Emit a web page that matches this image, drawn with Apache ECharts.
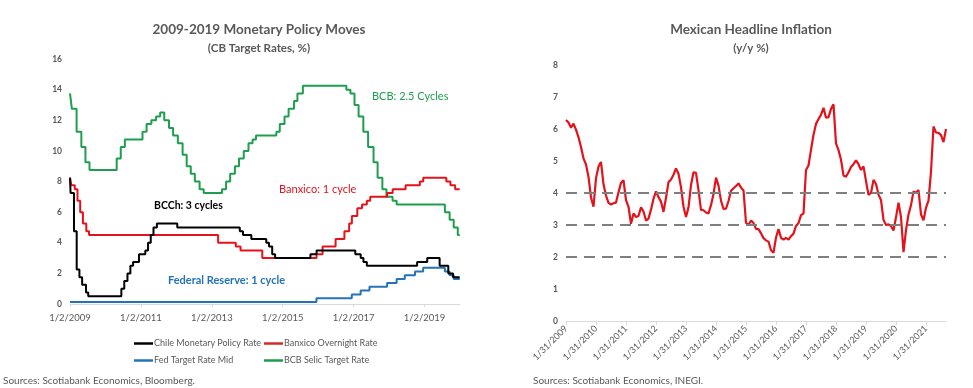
<!DOCTYPE html>
<html>
<head>
<meta charset="utf-8">
<script src="https://cdn.jsdelivr.net/npm/echarts@6/dist/echarts.min.js"></script>
<style>
html,body{margin:0;padding:0;background:#fff;}
#c{width:973px;height:388px;}
</style>
</head>
<body>
<div id="c"></div>
<script>
// ---------- Left chart data: policy rate change dates and levels ----------
const chileDates = ["2009-01-02","2009-01-08","2009-02-12","2009-03-12","2009-04-09","2009-05-07","2009-06-16","2009-07-09","2010-06-15","2010-07-15","2010-08-17","2010-09-16","2010-10-14","2010-12-14","2011-02-17","2011-03-17","2011-04-14","2011-05-12","2011-06-16","2012-01-12","2013-10-17","2013-11-19","2014-02-13","2014-07-17","2014-08-14","2014-09-16","2014-10-16","2015-10-15","2015-12-17","2017-01-19","2017-03-16","2017-04-13","2017-05-18","2018-10-18","2019-01-30","2019-06-07","2019-09-04","2019-10-23","2019-12-31"];
const chileRates = [8.25,7.25,4.75,2.25,1.75,1.25,0.75,0.5,1.0,1.5,2.0,2.5,2.75,3.25,3.5,4.0,4.5,5.0,5.25,5.0,4.75,4.5,4.25,4.0,3.75,3.25,3.0,3.25,3.5,3.25,3.0,2.75,2.5,2.75,3.0,2.5,2.0,1.75,1.75];

const banxicoDates = ["2009-01-02","2009-01-16","2009-02-20","2009-03-20","2009-04-17","2009-05-15","2009-06-19","2009-07-17","2013-03-08","2013-09-06","2013-10-25","2014-06-06","2015-12-17","2016-02-17","2016-06-30","2016-09-29","2016-11-17","2016-12-15","2017-02-09","2017-03-30","2017-05-18","2017-06-22","2017-12-14","2018-02-08","2018-06-21","2018-11-15","2018-12-20","2019-08-15","2019-09-26","2019-11-14","2019-12-31"];
const banxicoRates = [8.25,7.75,7.5,6.75,6.0,5.25,4.75,4.5,4.0,3.75,3.5,3.0,3.25,3.75,4.25,4.75,5.25,5.75,6.25,6.5,6.75,7.0,7.25,7.5,7.75,8.0,8.25,8.0,7.75,7.5,7.5];

const fedDates = ["2009-01-02","2015-12-16","2016-12-14","2017-03-15","2017-06-14","2017-12-13","2018-03-21","2018-06-13","2018-09-26","2018-12-19","2019-07-31","2019-09-18","2019-10-30","2019-12-31"];
const fedRates = [0.125,0.375,0.625,0.875,1.125,1.375,1.625,1.875,2.125,2.375,2.125,1.875,1.625,1.625];

const bcbDates = ["2009-01-02","2009-01-21","2009-03-11","2009-04-29","2009-06-10","2009-07-22","2010-04-28","2010-06-09","2010-07-21","2011-01-19","2011-03-02","2011-04-20","2011-06-08","2011-07-20","2011-08-31","2011-10-19","2011-11-30","2012-01-18","2012-03-07","2012-04-18","2012-05-30","2012-07-11","2012-08-29","2012-10-10","2013-04-17","2013-05-29","2013-07-10","2013-08-28","2013-10-09","2013-11-27","2014-01-15","2014-02-26","2014-04-02","2014-10-29","2014-12-03","2015-01-21","2015-03-04","2015-04-29","2015-06-03","2015-07-29","2016-10-19","2016-11-30","2017-01-11","2017-02-22","2017-04-12","2017-05-31","2017-07-26","2017-09-06","2017-10-25","2017-12-06","2018-02-07","2018-03-21","2019-07-31","2019-09-18","2019-10-30","2019-12-11","2019-12-31"];
const bcbRates = [13.75,12.75,11.25,10.25,9.25,8.75,9.5,10.25,10.75,11.25,11.75,12.0,12.25,12.5,12.0,11.5,11.0,10.5,9.75,9.0,8.5,8.0,7.5,7.25,7.5,8.0,8.5,9.0,9.5,10.0,10.5,10.75,11.0,11.25,11.75,12.25,12.75,13.25,13.75,14.25,14.0,13.75,13.0,12.25,11.25,10.25,9.25,8.25,7.5,7.0,6.75,6.5,6.0,5.5,5.0,4.5,4.5];

const leftTickYears = [2009, 2011, 2013, 2015, 2017, 2019];

// ---------- Right chart data: Mexican headline inflation, monthly from Jan 2009 ----------
const inflationStart = [2009, 1];
const inflation = [
  6.28,6.20,6.04,6.17,5.98,5.74,5.44,5.08,4.89,4.50,3.86,3.57,
  4.46,4.83,4.97,4.27,3.92,3.69,3.64,3.68,3.70,4.02,4.32,4.40,
  3.78,3.57,3.04,3.36,3.25,3.28,3.55,3.42,3.14,3.20,3.48,3.82,
  4.05,3.87,3.73,3.41,3.85,4.34,4.42,4.57,4.77,4.60,4.18,3.57,
  3.25,3.55,4.25,4.65,4.63,4.09,3.47,3.46,3.39,3.36,3.62,3.97,
  4.48,4.23,3.76,3.50,3.51,3.75,4.07,4.15,4.22,4.30,4.17,4.08,
  3.07,3.00,3.14,3.06,2.88,2.87,2.74,2.59,2.52,2.48,2.21,2.13,
  2.61,2.87,2.60,2.54,2.60,2.54,2.65,2.73,2.97,3.06,3.31,3.36,
  4.72,4.86,5.35,5.82,6.16,6.31,6.44,6.66,6.35,6.37,6.63,6.77,
  5.55,5.34,5.04,4.55,4.51,4.65,4.81,4.90,5.02,4.90,4.72,4.83,
  4.37,3.94,4.00,4.41,4.28,3.95,3.78,3.16,3.00,3.02,2.97,2.83,
  3.24,3.70,3.25,2.15,2.84,3.33,3.62,4.05,4.01,4.09,3.33,3.15,
  3.54,3.76,4.67,6.08,5.89,5.88,5.81,5.59,6.00
];
const referenceLines = [2, 3, 4];

// ---------- helpers ----------
const BASE = Date.UTC(2009, 0, 2);
function yearsSinceBase(s) {
  const p = s.split('-').map(Number);
  return (Date.UTC(p[0], p[1] - 1, p[2]) - BASE) / (365.25 * 86400000);
}
function pairs(dates, vals) { return dates.map((d, i) => [yearsSinceBase(d), vals[i]]); }

const monthCats = inflation.map((_, i) => {
  const y = inflationStart[0] + Math.floor((inflationStart[1] - 1 + i) / 12);
  const m = (inflationStart[1] - 1 + i) % 12 + 1;
  const last = new Date(Date.UTC(y, m, 0)).getUTCDate();
  return m + '/' + last + '/' + y;
});

const FONT = 'Lato';
const GREY = '#595959';
const C_BLACK = '#000000', C_RED = '#E3121B', C_BLUE = '#2373B8', C_GREEN = '#1E9E4E';

const chart = echarts.init(document.getElementById('c'), null, {renderer: 'canvas'});
chart.setOption({
  animation: false,
  textStyle: {fontFamily: FONT},
  title: [
    {text: '2009-2019 Monetary Policy Moves', subtext: '(CB Target Rates, %)', left: 254, top: 18, textAlign: 'center', itemGap: 5,
     textStyle: {fontFamily: FONT, fontSize: 13.5, fontWeight: 'bold', color: GREY},
     subtextStyle: {fontFamily: FONT, fontSize: 11.5, fontWeight: 'bold', color: GREY}},
    {text: 'Mexican Headline Inflation', subtext: '(y/y %)', left: 746, top: 18, textAlign: 'center', itemGap: 5,
     textStyle: {fontFamily: FONT, fontSize: 13.5, fontWeight: 'bold', color: GREY},
     subtextStyle: {fontFamily: FONT, fontSize: 11.5, fontWeight: 'bold', color: GREY}}
  ],
  grid: [
    {left: 70, right: 513, top: 59, bottom: 84},
    {left: 566, right: 27, top: 65, bottom: 67}
  ],
  xAxis: [
    {type: 'value', gridIndex: 0, min: 0, max: 11, interval: 2,
     axisLine: {lineStyle: {color: '#D9D9D9'}},
     axisTick: {show: true, length: 3, lineStyle: {color: '#D9D9D9'}},
     splitLine: {show: false},
     axisLabel: {color: GREY, fontSize: 9.5, margin: 9, showMaxLabel: false,
       formatter: v => { const y = 2009 + Math.round(v); return leftTickYears.indexOf(y) >= 0 && Math.abs(v - Math.round(v)) < 1e-6 ? '1/2/' + y : ''; }}},
    {type: 'category', gridIndex: 1, data: monthCats, boundaryGap: false,
     axisLine: {lineStyle: {color: '#D9D9D9'}},
     axisTick: {show: true, interval: 11, length: 4, lineStyle: {color: '#D9D9D9'}},
     axisLabel: {interval: 11, rotate: 45, color: GREY, fontSize: 9, margin: 6}}
  ],
  yAxis: [
    {type: 'value', gridIndex: 0, min: 0, max: 16, interval: 2,
     axisLine: {show: false}, axisTick: {show: false}, splitLine: {show: false},
     axisLabel: {color: GREY, fontSize: 8.5, fontWeight: 'bold', margin: 8}},
    {type: 'value', gridIndex: 1, min: 0, max: 8, interval: 1,
     axisLine: {show: false}, axisTick: {show: false}, splitLine: {show: false},
     axisLabel: {color: GREY, fontSize: 8.5, fontWeight: 'bold', margin: 8}}
  ],
  legend: [
    {left: 129, top: 334, orient: 'vertical', itemGap: 8, itemWidth: 19, itemHeight: 2.5, icon: 'rect',
     textStyle: {color: GREY, fontSize: 9, padding: [0, 0, 0, -4]}, data: ['Chile Monetary Policy Rate', 'Fed Target Rate Mid']},
    {left: 259, top: 334, orient: 'vertical', itemGap: 8, itemWidth: 19, itemHeight: 2.5, icon: 'rect',
     textStyle: {color: GREY, fontSize: 9, padding: [0, 0, 0, -4]}, data: ['Banxico Overnight Rate', 'BCB Selic Target Rate']}
  ],
  series: [
    {name: 'BCB Selic Target Rate', type: 'line', step: 'end', xAxisIndex: 0, yAxisIndex: 0, showSymbol: false,
     data: pairs(bcbDates, bcbRates), lineStyle: {color: C_GREEN, width: 2}, itemStyle: {color: C_GREEN}},
    {name: 'Fed Target Rate Mid', type: 'line', step: 'end', xAxisIndex: 0, yAxisIndex: 0, showSymbol: false,
     data: pairs(fedDates, fedRates), lineStyle: {color: C_BLUE, width: 2}, itemStyle: {color: C_BLUE}},
    {name: 'Banxico Overnight Rate', type: 'line', step: 'end', xAxisIndex: 0, yAxisIndex: 0, showSymbol: false,
     data: pairs(banxicoDates, banxicoRates), lineStyle: {color: C_RED, width: 2}, itemStyle: {color: '#D62A2A'}},
    {name: 'Chile Monetary Policy Rate', type: 'line', step: 'end', xAxisIndex: 0, yAxisIndex: 0, showSymbol: false,
     data: pairs(chileDates, chileRates), lineStyle: {color: C_BLACK, width: 2}, itemStyle: {color: C_BLACK}},
    {name: 'Inflation', type: 'line', xAxisIndex: 1, yAxisIndex: 1, showSymbol: false,
     data: inflation, lineStyle: {color: C_RED, width: 2.2}, itemStyle: {color: C_RED},
     markLine: {silent: true, symbol: 'none', label: {show: false},
       lineStyle: {color: '#7F7F7F', type: [11, 7], width: 2.2},
       data: referenceLines.map(v => ({yAxis: v}))}}
  ],
  graphic: [
    {type: 'text', left: 372, top: 91, style: {text: 'BCB: 2.5 Cycles', fill: C_GREEN, font: '11px ' + FONT}},
    {type: 'text', left: 279, top: 184, style: {text: 'Banxico: 1 cycle', fill: C_RED, font: '11px ' + FONT}},
    {type: 'text', left: 154, top: 200, style: {text: 'BCCh: 3 cycles', fill: '#000', font: 'bold 10.5px ' + FONT}},
    {type: 'text', left: 168, top: 275, style: {text: 'Federal Reserve: 1 cycle', fill: C_BLUE, font: 'bold 11px ' + FONT}},
    {type: 'text', left: 3, top: 376, style: {text: 'Sources: Scotiabank Economics, Bloomberg.', fill: GREY, font: '10px ' + FONT}},
    {type: 'text', left: 533, top: 376, style: {text: 'Sources: Scotiabank Economics, INEGI.', fill: GREY, font: '10px ' + FONT}}
  ]
});
</script>
</body>
</html>
